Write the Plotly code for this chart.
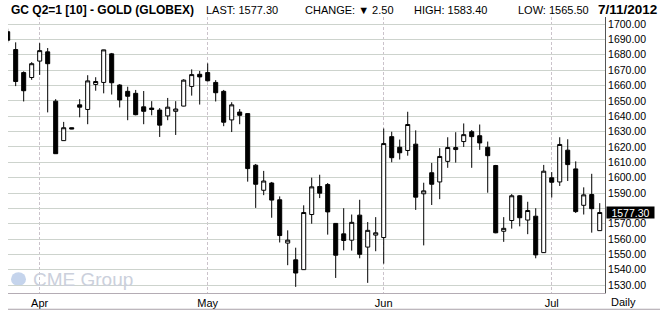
import plotly.graph_objects as go

dates = [
    "2012-03-27", "2012-03-28", "2012-03-29", "2012-03-30",
    "2012-04-02", "2012-04-03", "2012-04-04", "2012-04-05", "2012-04-06",
    "2012-04-09", "2012-04-10", "2012-04-11", "2012-04-12", "2012-04-13",
    "2012-04-16", "2012-04-17", "2012-04-18", "2012-04-19", "2012-04-20",
    "2012-04-23", "2012-04-24", "2012-04-25", "2012-04-26", "2012-04-27",
    "2012-04-30", "2012-05-01", "2012-05-02", "2012-05-03", "2012-05-04",
    "2012-05-07", "2012-05-08", "2012-05-09", "2012-05-10", "2012-05-11",
    "2012-05-14", "2012-05-15", "2012-05-16", "2012-05-17", "2012-05-18",
    "2012-05-21", "2012-05-22", "2012-05-23", "2012-05-24", "2012-05-25",
    "2012-05-29", "2012-05-30", "2012-05-31", "2012-06-01",
    "2012-06-04", "2012-06-05", "2012-06-06", "2012-06-07", "2012-06-08",
    "2012-06-11", "2012-06-12", "2012-06-13", "2012-06-14", "2012-06-15",
    "2012-06-18", "2012-06-19", "2012-06-20", "2012-06-21", "2012-06-22",
    "2012-06-25", "2012-06-26", "2012-06-27", "2012-06-28", "2012-06-29",
    "2012-07-02", "2012-07-03", "2012-07-05", "2012-07-06",
    "2012-07-09", "2012-07-10", "2012-07-11",
]

opens = [
    1695.0, 1683.4, 1668.4, 1665.2, 1675.9, 1681.9, 1649.8, 1624.1, 1632.5,
    1647.4, 1644.4, 1660.7, 1662.0, 1680.6, 1660.3, 1656.2, 1654.9, 1646.1,
    1645.3, 1644.0, 1640.2, 1643.2, 1646.6, 1659.4, 1667.3, 1668.4, 1662.0,
    1656.2, 1637.6, 1642.7, 1641.7, 1608.1, 1591.8, 1596.5, 1585.6, 1557.4,
    1546.5, 1540.1, 1576.0, 1594.2, 1595.5, 1570.2, 1563.4, 1559.3, 1575.6,
    1554.8, 1562.6, 1561.0, 1626.7, 1619.8, 1617.7, 1621.8, 1589.5, 1603.2,
    1597.2, 1610.6, 1618.3, 1623.5, 1629.9, 1627.3, 1619.8, 1607.9, 1565.1,
    1572.1, 1588.2, 1572.4, 1574.9, 1551.2, 1599.9, 1597.2, 1617.9, 1605.7,
    1582.0, 1589.0, 1565.5,
]
highs = [
    1697.0, 1688.1, 1669.2, 1675.2, 1687.6, 1684.4, 1651.1, 1636.3, 1632.6,
    1651.1, 1666.7, 1665.4, 1683.3, 1681.2, 1660.9, 1659.2, 1657.1, 1656.4,
    1649.8, 1645.3, 1651.9, 1649.8, 1664.1, 1670.5, 1669.5, 1674.4, 1663.5,
    1657.1, 1649.1, 1644.7, 1641.9, 1608.9, 1604.4, 1597.2, 1587.8, 1565.7,
    1554.4, 1582.0, 1600.0, 1601.9, 1596.5, 1570.3, 1580.1, 1576.0, 1585.6,
    1571.1, 1574.3, 1632.0, 1629.9, 1624.8, 1642.9, 1630.8, 1596.7, 1609.6,
    1619.2, 1626.3, 1629.6, 1635.3, 1631.0, 1634.6, 1623.5, 1608.3, 1574.3,
    1589.3, 1588.6, 1584.3, 1580.1, 1608.3, 1603.6, 1626.3, 1625.0, 1610.6,
    1593.7, 1602.5, 1583.4,
]
lows = [
    1688.0, 1659.6, 1649.6, 1663.7, 1666.9, 1642.5, 1615.5, 1624.0, 1631.6,
    1639.3, 1634.8, 1656.6, 1654.9, 1654.1, 1645.7, 1637.4, 1640.6, 1634.8,
    1640.6, 1626.5, 1637.4, 1627.8, 1646.4, 1653.4, 1647.6, 1662.6, 1649.6,
    1633.5, 1629.7, 1634.8, 1597.4, 1580.3, 1588.6, 1573.9, 1557.8, 1543.0,
    1528.9, 1540.0, 1570.0, 1586.7, 1562.9, 1534.7, 1552.7, 1552.5, 1547.5,
    1531.5, 1552.1, 1544.0, 1610.0, 1611.8, 1614.3, 1579.0, 1555.9, 1582.2,
    1586.0, 1606.4, 1609.8, 1620.0, 1606.4, 1618.1, 1590.2, 1563.8, 1558.2,
    1566.8, 1568.3, 1563.2, 1547.5, 1551.0, 1587.1, 1594.6, 1597.8, 1577.0,
    1576.0, 1564.2, 1565.5,
]
closes = [
    1689.5, 1662.6, 1656.6, 1674.2, 1682.7, 1674.2, 1615.6, 1632.5, 1631.7,
    1645.9, 1663.0, 1662.6, 1683.2, 1661.8, 1650.6, 1653.0, 1641.0, 1643.2,
    1644.4, 1634.2, 1645.9, 1644.7, 1663.5, 1667.1, 1665.6, 1663.1, 1655.3,
    1636.1, 1647.4, 1640.6, 1605.9, 1595.7, 1597.8, 1585.4, 1562.3, 1559.3,
    1537.9, 1577.3, 1594.0, 1589.9, 1577.7, 1549.5, 1559.1, 1570.9, 1550.1,
    1565.7, 1564.1, 1622.2, 1613.0, 1616.2, 1634.6, 1587.3, 1591.4, 1595.7,
    1613.8, 1619.6, 1619.6, 1628.0, 1626.7, 1622.6, 1614.3, 1564.1, 1567.0,
    1588.2, 1573.9, 1578.6, 1549.7, 1604.2, 1597.0, 1621.6, 1608.5, 1577.9,
    1588.8, 1579.8, 1577.3,
]

month_ticks = ["2012-04-02", "2012-05-01", "2012-06-01", "2012-07-02"]
month_labels = ["Apr", "May", "Jun", "Jul"]
y_ticks = [1530, 1540, 1550, 1560, 1570, 1580, 1590, 1600, 1610, 1620,
           1630, 1640, 1650, 1660, 1670, 1680, 1690, 1700]
# the 1580 label is hidden behind the last-price tag in the reference
y_labels = ["" if v == 1580 else f"{v:.2f}" for v in y_ticks]

title_text = "GC Q2=1 [10] - GOLD (GLOBEX)"
last_text = "LAST: 1577.30"
change_text = "CHANGE: \u25bc 2.50"
high_text = "HIGH: 1583.40"
low_text = "LOW: 1565.50"
date_text = "7/11/2012"
last_price = closes[-1]

W, H = 660, 317
PL, PR, PT, PB = 8, 605, 17, 297
PW, PH = PR - PL, PB - PT


def px(x):
    return (x - PL) / PW


def py(y):
    return (PB - y) / PH


fig = go.Figure()
fig.add_trace(go.Candlestick(
    x=dates, open=opens, high=highs, low=lows, close=closes,
    increasing=dict(fillcolor="white", line=dict(color="black", width=1)),
    decreasing=dict(fillcolor="black", line=dict(color="black", width=1)),
    whiskerwidth=0, hoverinfo="skip", showlegend=False,
))

reg = "Liberation Sans, Arial, sans-serif"

ann = []
hy = py(9.5)
ann.append(dict(text="<b>" + title_text + "</b>", x=px(9), y=hy, xanchor="left",
                yanchor="middle", font=dict(family=reg, size=12, color="black")))
for t, xp in [(last_text, 204), (change_text, 303), (high_text, 412), (low_text, 516)]:
    ann.append(dict(text=t, x=px(xp), y=hy, xanchor="left", yanchor="middle",
                    font=dict(family=reg, size=11, color="black")))
ann.append(dict(text="<b>" + date_text + "</b>", x=px(659), y=hy, xanchor="right",
                yanchor="middle", font=dict(family=reg, size=13.5, color="black")))
ann.append(dict(text="Daily", x=px(609), y=py(306), xanchor="left", yanchor="middle",
                font=dict(family=reg, size=11, color="black")))
ann.append(dict(text="CME Group", x=px(31), y=py(283), xanchor="left", yanchor="middle",
                font=dict(family=reg, size=19, color="#cbd0dc")))
ann.append(dict(text=f"{last_price:.2f}", xref="paper", yref="y", x=1, y=last_price,
                xanchor="left", yanchor="middle", xshift=1, bgcolor="black",
                width=47, height=11, borderpad=0, align="center",
                font=dict(family=reg, size=10.5, color="white")))
for a in ann:
    a.setdefault("xref", "paper")
    a.setdefault("yref", "paper")
    a["showarrow"] = False

shapes = [
    dict(type="circle", xref="paper", yref="paper",
         x0=px(11), x1=px(26), y0=py(290), y1=py(276),
         fillcolor="#c5d4ec", line=dict(width=0), layer="below"),
    dict(type="line", xref="paper", yref="paper",
         x0=px(8), x1=px(660), y0=py(313.5), y1=py(313.5),
         line=dict(color="#a8a0a8", width=1)),
]

fig.update_layout(
    width=W, height=H,
    margin=dict(l=PL, r=W - PR, t=PT, b=H - PB, pad=0),
    paper_bgcolor="white", plot_bgcolor="white",
    boxgap=0.28,
    annotations=ann, shapes=shapes,
    xaxis=dict(
        type="category", range=[0.04, 74.66], rangeslider=dict(visible=False),
        tickvals=month_ticks, ticktext=month_labels, ticks="",
        showgrid=True, gridcolor="#cbc3cb", griddash="3px,2px", gridwidth=1,
        showline=True, linecolor="#b4acb4", linewidth=1,
        tickfont=dict(family=reg, size=11, color="black"),
        fixedrange=True,
    ),
    yaxis=dict(
        side="right", range=[1524.9, 1704.6], tickvals=y_ticks, ticktext=y_labels,
        ticks="", showgrid=True, gridcolor="#cdd3cd",
        gridwidth=1, zeroline=False, showline=True, linecolor="#555555",
        linewidth=1, tickfont=dict(family=reg, size=10.5, color="black"),
        fixedrange=True,
    ),
)

fig.write_html("out.html")
